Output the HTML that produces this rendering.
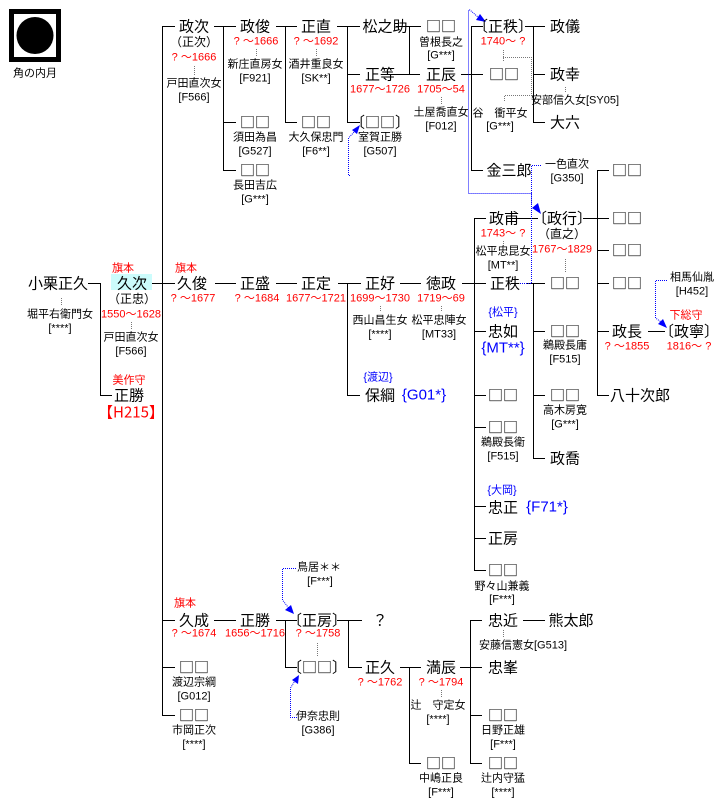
<!DOCTYPE html>
<html><head><meta charset="utf-8"><style>
body{margin:0;background:#fff;width:724px;height:808px;position:relative;overflow:hidden;font-family:"Liberation Sans","Noto Sans CJK JP",sans-serif;}
.t{position:absolute;transform:translate(-50%,-50%);white-space:nowrap;line-height:1;}
.n{font-size:15px;color:#000;font-family:"Noto Sans CJK JP","Liberation Sans",sans-serif;}
.s{font-size:11px;color:#000;}
.r{font-size:11px;color:#f00;}
.b{font-size:11px;color:#00f;}
.bb{font-size:15px;color:#00f;}
svg{position:absolute;left:0;top:0;}
</style></head><body>
<div style="position:absolute;left:111px;top:274px;width:41px;height:16px;background:#ccfcfc"></div>
<svg width="724" height="808">
<rect x="9" y="9" width="52" height="53" fill="#000"/>
<rect x="14" y="14" width="42" height="43" fill="#fff"/>
<circle cx="35" cy="35.5" r="18.5" fill="#000"/>
<g stroke="#000" stroke-width="1" fill="none">
<path d="M88 283.5H100.5V395.5H112"/>
<path d="M152 283.5H175M162.5 26V715M162 26.5H175M162 620.5H175M162 667.5H175M162 715.5H175"/>
<path d="M215 283.5H236M276 283.5H297M338 283.5H361M347.5 283V395.5H360M400 283.5H421M462 283.5H486M474.5 218V570M474 218.5H486M474 331.5H486M474 395.5H486M474 427.5H486M474 506.5H486M474 538.5H486M474 570.5H486"/>
<path d="M214 26.5H236M223.5 26V170.5H236M223 122.5H236M276 26.5H297M285.5 26V122.5H297M337 26.5H360M347.5 26V122.5H360M347 74.5H360M396 26.5H421M409.5 26V74.5M394 74.5H420M461 74.5H483M471.5 26V170.5H483M471 26.5H483M525 26.5H545M533.5 26V122.5H545M533 74.5H545"/>
<path d="M517 218.5H538M527 283.5H545M533.5 283V458.5H545M533 331.5H545M533 395.5H545M583 218.5H609M597.5 170V395.5H609M597 170.5H609M597 250.5H609M597 283.5H609M597 331.5H609M648 331.5H665"/>
<path d="M214 620.5H236M276 620.5H297M285.5 620V667.5H297M337 620.5H362M348.5 620V667.5H362M400 667.5H421M409.5 667V763.5H421M460 667.5H482M470.5 620V763.5H482M470 620.5H482M470 715.5H482M523 620.5H545"/>
</g>
<g stroke="#777" stroke-width="1" stroke-dasharray="1,1" fill="none">
<path d="M194.5 66V75M256.5 49V56M316.5 49V56M441.5 97V104M503.5 50V62M503 57.5H531.5V95.5H504.5V102M565.5 87V93M565.5 259V272M503.5 241V247M61.5 298V306M131.5 322V329M380.5 306V312M441.5 306V312M317.5 643V656M441.5 690V697M503.5 630V637"/>
</g>
<g stroke="#00f" stroke-width="1" stroke-dasharray="1,1" fill="none">
<path d="M479 18L470 10H468.5V193.5H531.5V205"/>
<path d="M541 165.5H531.5V283.5H520"/>
<path d="M667 280.5H655.5V318L664 324"/>
<path d="M350 175.5H348.5V138L356 130"/>
<path d="M296 568.5H282.5V600L291 611"/>
<path d="M297 717.5H290.5V688L296 679"/>
</g>
<g fill="#00f">
<polygon points="486,22 476,20 480,14"/>
<polygon points="541,214 532,208 538,203"/>
<polygon points="667,328 658,324 663,319"/>
<polygon points="360,125 357,134 352,130"/>
<polygon points="294,614 285,610 291,605"/>
<polygon points="299,675 298,684 292,680"/>
</g>
</svg>
<div class="t s" style="left:35px;top:74px">角の内月</div>

<div class="t n" style="left:194px;top:26px">政次</div>
<div class="t s" style="left:194px;top:42px;font-size:12px">（正次）</div>
<div class="t r" style="left:194px;top:58px">? ～1666</div>
<div class="t s" style="left:194px;top:84px">戸田直次女</div>
<div class="t s" style="left:194px;top:98px">[F566]</div>
<div class="t n" style="left:255px;top:26px">政俊</div>
<div class="t r" style="left:256px;top:42px">? ～1666</div>
<div class="t s" style="left:255px;top:65px">新庄直房女</div>
<div class="t s" style="left:255px;top:79px">[F921]</div>
<div class="t n" style="left:255px;top:122px">□□</div>
<div class="t s" style="left:255px;top:138px">須田為昌</div>
<div class="t s" style="left:255px;top:152px">[G527]</div>
<div class="t n" style="left:255px;top:170px">□□</div>
<div class="t s" style="left:255px;top:186px">長田吉広</div>
<div class="t s" style="left:255px;top:200px">[G***]</div>
<div class="t n" style="left:316px;top:26px">正直</div>
<div class="t r" style="left:316px;top:42px">? ～1692</div>
<div class="t s" style="left:316px;top:65px">酒井重良女</div>
<div class="t s" style="left:316px;top:79px">[SK**]</div>
<div class="t n" style="left:316px;top:122px">□□</div>
<div class="t s" style="left:316px;top:138px">大久保忠門</div>
<div class="t s" style="left:316px;top:152px">[F6**]</div>
<div class="t n" style="left:385px;top:26px">松之助</div>
<div class="t n" style="left:441px;top:26px">□□</div>
<div class="t s" style="left:441px;top:43px">曽根長之</div>
<div class="t s" style="left:441px;top:56px">[G***]</div>
<div class="t n" style="left:380px;top:74px">正等</div>
<div class="t r" style="left:380px;top:90px">1677～1726</div>
<div class="t n" style="left:441px;top:74px">正辰</div>
<div class="t r" style="left:441px;top:90px">1705～54</div>
<div class="t s" style="left:441px;top:113px">土屋喬直女</div>
<div class="t s" style="left:441px;top:127px">[F012]</div>
<div class="t n" style="left:380px;top:122px">〔□□〕</div>
<div class="t s" style="left:380px;top:138px">室賀正勝</div>
<div class="t s" style="left:380px;top:152px">[G507]</div>
<div class="t n" style="left:503px;top:26px">〔正秩〕</div>
<div class="t r" style="left:503px;top:42px">1740～ ?</div>
<div class="t n" style="left:504px;top:74px">□□</div>
<div class="t s" style="left:500px;top:114px">谷　衝平女</div>
<div class="t s" style="left:500px;top:127px">[G***]</div>
<div class="t n" style="left:565px;top:26px">政儀</div>
<div class="t n" style="left:565px;top:74px">政幸</div>
<div class="t s" style="left:575px;top:101px">安部信久女[SY05]</div>
<div class="t n" style="left:565px;top:122px">大六</div>
<div class="t n" style="left:509px;top:170px">金三郎</div>
<div class="t s" style="left:567px;top:165px">一色直次</div>
<div class="t s" style="left:567px;top:179px">[G350]</div>
<div class="t n" style="left:627px;top:170px">□□</div>
<div class="t n" style="left:504px;top:218px">政甫</div>
<div class="t r" style="left:503px;top:234px">1743～ ?</div>
<div class="t s" style="left:503px;top:252px">松平忠昆女</div>
<div class="t s" style="left:503px;top:266px">[MT**]</div>
<div class="t n" style="left:562px;top:218px">〔政行〕</div>
<div class="t s" style="left:562px;top:234px;font-size:12px">（直之）</div>
<div class="t r" style="left:562px;top:250px">1767～1829</div>
<div class="t n" style="left:627px;top:218px">□□</div>
<div class="t n" style="left:627px;top:250px">□□</div>
<div class="t n" style="left:627px;top:283px">□□</div>
<div class="t n" style="left:505px;top:283px">正秩</div>
<div class="t n" style="left:565px;top:283px">□□</div>
<div class="t b" style="left:503px;top:313px">{松平}</div>
<div class="t n" style="left:503px;top:331px">忠如</div>
<div class="t bb" style="left:503px;top:348px">{MT**}</div>
<div class="t n" style="left:565px;top:331px">□□</div>
<div class="t s" style="left:565px;top:346px">鵜殿長庸</div>
<div class="t s" style="left:565px;top:360px">[F515]</div>
<div class="t n" style="left:627px;top:331px">政長</div>
<div class="t r" style="left:627px;top:347px">? ～1855</div>
<div class="t r" style="left:686px;top:316px">下総守</div>
<div class="t n" style="left:689px;top:331px">〔政寧〕</div>
<div class="t r" style="left:689px;top:347px">1816～ ?</div>
<div class="t s" style="left:692px;top:278px">相馬仙胤</div>
<div class="t s" style="left:692px;top:292px">[H452]</div>
<div class="t n" style="left:640px;top:395px">八十次郎</div>
<div class="t n" style="left:503px;top:395px">□□</div>
<div class="t n" style="left:565px;top:395px">□□</div>
<div class="t s" style="left:565px;top:411px">高木房寛</div>
<div class="t s" style="left:565px;top:425px">[G***]</div>
<div class="t n" style="left:503px;top:427px">□□</div>
<div class="t s" style="left:503px;top:443px">鵜殿長衛</div>
<div class="t s" style="left:503px;top:457px">[F515]</div>
<div class="t n" style="left:565px;top:458px">政喬</div>
<div class="t b" style="left:502px;top:491px">{大岡}</div>
<div class="t n" style="left:503px;top:507px">忠正</div>
<div class="t bb" style="left:547px;top:507px">{F71*}</div>
<div class="t n" style="left:503px;top:538px">正房</div>
<div class="t n" style="left:503px;top:570px">□□</div>
<div class="t s" style="left:502px;top:587px">野々山兼義</div>
<div class="t s" style="left:502px;top:600px">[F***]</div>
<div class="t n" style="left:503px;top:620px">忠近</div>
<div class="t n" style="left:571px;top:620px">熊太郎</div>
<div class="t s" style="left:523px;top:646px">安藤信憲女[G513]</div>

<div class="t n" style="left:58px;top:283px">小栗正久</div>
<div class="t s" style="left:60px;top:315px">堀平右衛門女</div>
<div class="t s" style="left:60px;top:329px">[****]</div>
<div class="t r" style="left:123px;top:269px">旗本</div>
<div class="t n" style="left:132px;top:283px">久次</div>
<div class="t s" style="left:132px;top:299px;font-size:12px">（正忠）</div>
<div class="t r" style="left:131px;top:315px">1550～1628</div>
<div class="t s" style="left:131px;top:338px">戸田直次女</div>
<div class="t s" style="left:131px;top:352px">[F566]</div>
<div class="t r" style="left:129px;top:381px">美作守</div>
<div class="t n" style="left:129px;top:395px">正勝</div>
<div class="t n" style="left:131px;top:412px;color:#f00">【H215】</div>
<div class="t r" style="left:186px;top:269px">旗本</div>
<div class="t n" style="left:192px;top:283px">久俊</div>
<div class="t r" style="left:193px;top:299px">? ～1677</div>
<div class="t n" style="left:255px;top:283px">正盛</div>
<div class="t r" style="left:257px;top:299px">? ～1684</div>
<div class="t n" style="left:316px;top:283px">正定</div>
<div class="t r" style="left:316px;top:299px">1677～1721</div>
<div class="t n" style="left:380px;top:283px">正好</div>
<div class="t r" style="left:380px;top:299px">1699～1730</div>
<div class="t s" style="left:380px;top:321px">西山昌生女</div>
<div class="t s" style="left:380px;top:335px">[****]</div>
<div class="t n" style="left:441px;top:283px">徳政</div>
<div class="t r" style="left:441px;top:299px">1719～69</div>
<div class="t s" style="left:439px;top:321px">松平忠陣女</div>
<div class="t s" style="left:439px;top:335px">[MT33]</div>
<div class="t b" style="left:378px;top:378px">{渡辺}</div>
<div class="t n" style="left:380px;top:395px">保綱</div>
<div class="t bb" style="left:424px;top:395px">{G01*}</div>

<div class="t r" style="left:185px;top:604px">旗本</div>
<div class="t n" style="left:194px;top:620px">久成</div>
<div class="t r" style="left:194px;top:634px">? ～1674</div>
<div class="t n" style="left:255px;top:620px">正勝</div>
<div class="t r" style="left:255px;top:634px">1656～1716</div>
<div class="t n" style="left:317px;top:620px">〔正房〕</div>
<div class="t r" style="left:318px;top:634px">? ～1758</div>
<div class="t n" style="left:380px;top:620px">？</div>
<div class="t n" style="left:317px;top:667px">〔□□〕</div>
<div class="t s" style="left:319px;top:568px">鳥居＊＊</div>
<div class="t s" style="left:320px;top:582px">[F***]</div>
<div class="t s" style="left:318px;top:717px">伊奈忠則</div>
<div class="t s" style="left:318px;top:731px">[G386]</div>
<div class="t n" style="left:194px;top:667px">□□</div>
<div class="t s" style="left:194px;top:683px">渡辺宗綱</div>
<div class="t s" style="left:194px;top:697px">[G012]</div>
<div class="t n" style="left:194px;top:715px">□□</div>
<div class="t s" style="left:194px;top:731px">市岡正次</div>
<div class="t s" style="left:194px;top:745px">[****]</div>
<div class="t n" style="left:380px;top:667px">正久</div>
<div class="t r" style="left:380px;top:683px">? ～1762</div>
<div class="t n" style="left:441px;top:667px">満辰</div>
<div class="t r" style="left:441px;top:683px">? ～1794</div>
<div class="t s" style="left:438px;top:706px">辻　守定女</div>
<div class="t s" style="left:438px;top:720px">[****]</div>
<div class="t n" style="left:503px;top:667px">忠峯</div>
<div class="t n" style="left:503px;top:715px">□□</div>
<div class="t s" style="left:503px;top:731px">日野正雄</div>
<div class="t s" style="left:503px;top:745px">[F***]</div>
<div class="t n" style="left:441px;top:763px">□□</div>
<div class="t s" style="left:441px;top:779px">中嶋正良</div>
<div class="t s" style="left:441px;top:793px">[F***]</div>
<div class="t n" style="left:503px;top:763px">□□</div>
<div class="t s" style="left:503px;top:779px">辻内守猛</div>
<div class="t s" style="left:503px;top:793px">[****]</div>
</body></html>
